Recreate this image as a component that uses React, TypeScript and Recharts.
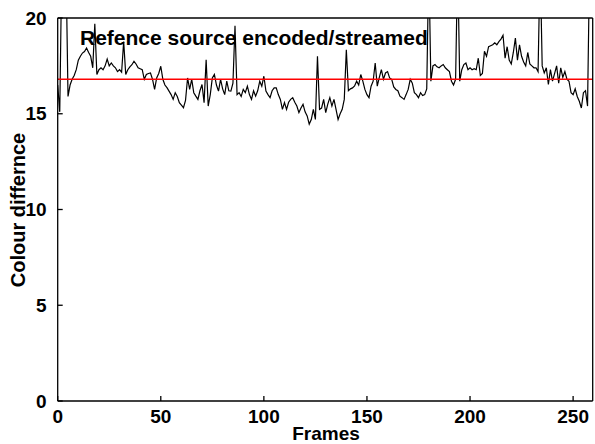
import { Line, LineChart, ReferenceLine, XAxis, YAxis } from 'recharts'

const font = '"Liberation Sans", Arial, sans-serif'

// colour difference per frame (reference source vs encoded/streamed)
const colourDiff = [
  16.5, 15.1, 23, 24, 23, 15.9, 16.5, 16.8, 17.0, 17.3,
  17.8, 18.0, 18.17, 18.25, 18.43, 18.2, 18.0, 17.4, 19.7, 17.05,
  17.3, 17.4, 17.3, 17.5, 17.86, 17.5, 17.65, 17.5, 17.4, 17.2,
  17.3, 17.17, 18.77, 17.05, 17.3, 17.45, 17.56, 17.74, 17.6, 17.4,
  17.35, 17.3, 16.8, 17.05, 17.1, 17.13, 16.8, 16.27, 16.87, 17.1,
  17.48, 16.8, 16.5, 16.36, 16.18, 16.0, 15.75, 16.1, 15.9, 15.58,
  15.45, 15.32, 15.7, 16.87, 16.27, 16.8, 16.1, 15.92, 15.75, 16.2,
  16.53, 15.58, 17.82, 15.4, 16.0, 16.87, 17.05, 16.5, 16.18, 16.8,
  16.3, 16.0, 16.7, 16.2, 16.18, 16.6, 19.6, 16.0, 16.1, 15.9,
  16.27, 16.1, 16.44, 16.0, 15.75, 16.2, 15.92, 16.2, 16.7, 16.44,
  16.96, 16.18, 16.0, 15.84, 16.2, 16.35, 16.35, 16.0, 15.75, 15.23,
  15.58, 15.23, 15.6, 15.75, 15.84, 15.6, 15.4, 15.06, 15.3, 15.49,
  15.1, 14.89, 14.46, 14.7, 15.23, 14.7, 18.0, 15.23, 15.3, 15.75,
  15.06, 15.5, 15.84, 15.4, 15.75, 15.23, 14.7, 15.0, 15.23, 15.75,
  18.34, 16.2, 16.3, 16.35, 16.45, 16.7, 16.5, 17.05, 16.7, 16.27,
  16.0, 15.84, 16.44, 16.7, 17.65, 16.44, 16.9, 17.3, 16.8, 17.13,
  17.2, 16.87, 16.8, 16.4, 16.27, 16.2, 15.92, 15.84, 15.75, 16.0,
  16.27, 16.8, 16.6, 16.1, 16.0, 15.84, 16.1, 15.95, 16.0, 16.3,
  23, 16.7, 17.5, 17.57, 17.45, 17.4, 17.5, 17.57, 17.4, 17.3,
  17.2, 16.7, 16.5, 16.8, 23, 16.7, 17.3, 17.57, 17.65, 17.3,
  17.4, 17.3, 17.35, 17.3, 17.9, 17.0, 17.1, 18.26, 18.0, 18.5,
  18.55, 18.6, 18.7, 18.6, 18.77, 18.9, 19.1, 17.9, 18.5, 17.8,
  17.6, 18.2, 18.95, 17.8, 18.6, 18.0, 17.7, 17.5, 18.2, 17.6,
  17.5, 17.4, 17.4, 17.2, 23, 17.5, 17.13, 17.4, 16.53, 17.3,
  16.7, 17.1, 17.5, 16.6, 17.4, 16.9, 17.2, 16.8, 16.7, 16.1,
  16.0, 16.3, 15.9, 15.65, 15.3, 16.1, 16.2, 15.4, 23, 23,
]

const meanDiff = 16.8
const xTicks = [0, 50, 100, 150, 200, 250]
const yTicks = [0, 5, 10, 15, 20]

const data = colourDiff.map((v, i) => ({ frame: i, diff: v }))

const axisStroke = { stroke: '#000', strokeWidth: 1.3 }
const tickStyle = { fill: '#000', fontSize: 19, fontWeight: 'bold', fontFamily: font }
const labelStyle: React.CSSProperties = {
  position: 'absolute',
  fontFamily: font,
  fontWeight: 'bold',
  fontSize: 20,
  color: '#000',
  whiteSpace: 'nowrap',
  lineHeight: 1,
}

export default function App() {
  return (
    <div style={{ position: 'absolute', left: 0, top: 0, width: 595, height: 444, background: '#fff' }}>
      <LineChart width={595} height={444} data={data} margin={{ top: 17, right: 1.3, bottom: 13, left: 0 }}>
        <XAxis
          dataKey="frame"
          type="number"
          domain={[0, 259.5]}
          ticks={xTicks}
          allowDataOverflow
          height={30}
          tickSize={-5}
          tickMargin={14}
          tick={tickStyle}
          axisLine={axisStroke}
          tickLine={axisStroke}
        />
        <XAxis
          xAxisId="top"
          dataKey="frame"
          orientation="top"
          type="number"
          domain={[0, 259.5]}
          ticks={xTicks}
          allowDataOverflow
          height={1}
          tickSize={-5}
          tick={false}
          axisLine={axisStroke}
          tickLine={axisStroke}
        />
        <YAxis
          type="number"
          domain={[0, 20]}
          ticks={yTicks}
          allowDataOverflow
          width={57.7}
          tickSize={-5}
          tickMargin={16}
          tick={tickStyle}
          axisLine={axisStroke}
          tickLine={axisStroke}
        />
        <YAxis
          yAxisId="right"
          orientation="right"
          type="number"
          domain={[0, 20]}
          ticks={yTicks}
          allowDataOverflow
          width={1}
          tickSize={-5}
          tick={false}
          axisLine={axisStroke}
          tickLine={axisStroke}
        />
        {/* invisible twin so the top/right frame axes get a scale */}
        <Line
          xAxisId="top"
          yAxisId="right"
          type="linear"
          dataKey="diff"
          stroke="none"
          dot={false}
          activeDot={false}
          isAnimationActive={false}
        />
        <Line
          type="linear"
          dataKey="diff"
          stroke="#000"
          strokeWidth={1.2}
          dot={false}
          isAnimationActive={false}
        />
        <ReferenceLine y={meanDiff} stroke="#ff0000" strokeWidth={1.6} />
      </LineChart>
      <div style={{ ...labelStyle, left: 80, top: 27, fontSize: 21 }}>Refence source encoded/streamed</div>
      <div style={{ ...labelStyle, left: 326, top: 424, fontSize: 19, transform: 'translateX(-50%)' }}>Frames</div>
      <div
        style={{
          ...labelStyle,
          left: 18,
          top: 210,
          transform: 'translate(-50%, -50%) rotate(-90deg)',
        }}
      >
        Colour differnce
      </div>
    </div>
  )
}
